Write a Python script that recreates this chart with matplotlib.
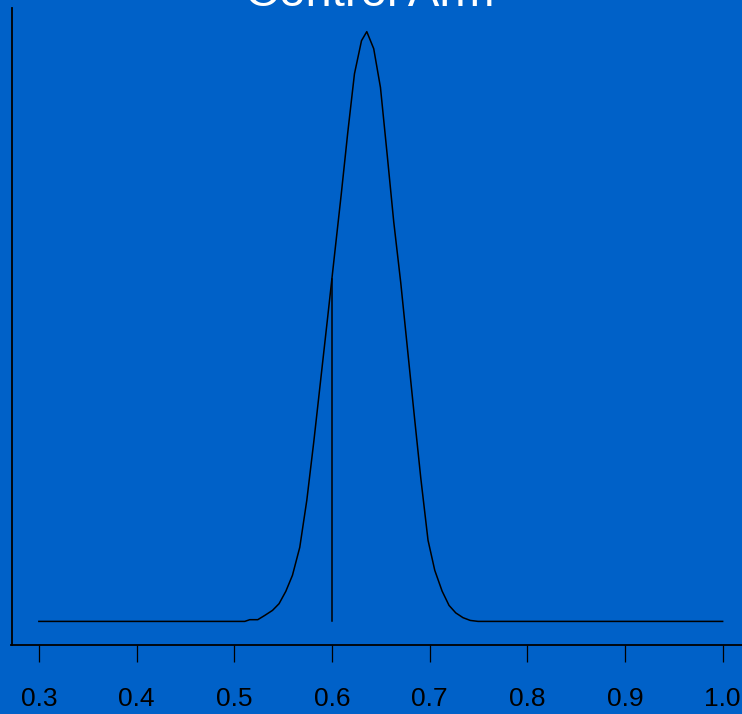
import matplotlib
matplotlib.use('Agg')
import matplotlib.pyplot as plt

# Density curve of the control arm
dens_x = [0.3, 0.5108, 0.5159, 0.5241, 0.5313, 0.5392, 0.5459, 0.5528, 0.5596,
          0.5671, 0.5743, 0.5814, 0.5886, 0.5958, 0.6029, 0.6096, 0.6162, 0.6231,
          0.6303, 0.6357, 0.6428, 0.6497, 0.6567, 0.6633, 0.6705, 0.6777, 0.6846,
          0.6910, 0.6984, 0.7053, 0.7128, 0.7199, 0.7268, 0.7342, 0.7416, 0.7496,
          1.0]
dens_y = [0.0, 0.0, 0.033, 0.033, 0.116, 0.213, 0.342, 0.580, 0.890,
          1.431, 2.340, 3.462, 4.681, 5.899, 7.118, 8.259, 9.439, 10.580,
          11.219, 11.393, 11.064, 10.315, 8.994, 7.718, 6.538, 5.203, 3.926,
          2.766, 1.567, 0.986, 0.586, 0.309, 0.164, 0.072, 0.019, 0.0,
          0.0]

# reference value marked by a vertical segment
ref_x = 0.6
ref_h = 6.62

xticks = [0.3, 0.4, 0.5, 0.6, 0.7, 0.8, 0.9, 1.0]
title = 'Control Arm'

bg = '#0061c8'
plt.rcParams['font.family'] = ['Liberation Sans', 'DejaVu Sans']

fig = plt.figure(figsize=(7.42, 7.14), dpi=100, facecolor=bg)
ax = fig.add_axes([11.5 / 742, 69 / 714, 738.5 / 742, 637 / 714])
ax.set_facecolor(bg)

ax.plot(dens_x, dens_y, color='black', lw=1.1)
ax.plot([ref_x, ref_x], [0, ref_h], color='black', lw=1.1)

ax.set_xlim(0.272, 1.028)
ax.set_ylim(-0.456, 11.85)

for s in ['top', 'right']:
    ax.spines[s].set_visible(False)
for s in ['left', 'bottom']:
    ax.spines[s].set_color('black')
    ax.spines[s].set_linewidth(1.3)

ax.set_xticks(xticks)
ax.set_xticklabels(['%.1f' % t for t in xticks])
ax.tick_params(axis='x', direction='out', length=12, width=0.9, color='black',
               labelsize=19, labelcolor='black', pad=18)
ax.set_yticks([])

# title sits mostly above the figure edge, as in the reference
fig.text(370 / 742, 708 / 714, title, color='white', fontsize=34,
         ha='center', va='baseline')

fig.savefig('out.png', dpi=100, facecolor=bg)
